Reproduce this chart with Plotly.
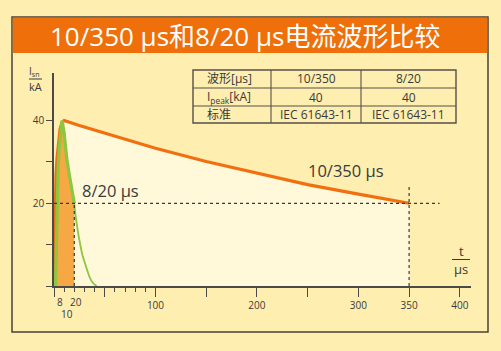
import plotly.graph_objects as go

# ---- data ----
t_10350 = [0, 1, 2, 3, 4, 6, 8, 10, 25, 50, 75, 100, 150, 200, 250, 300, 350]
i_10350 = [0, 20, 27, 31, 34, 38, 39.6, 40, 38.8, 36.9, 35.0, 33.3, 30.1, 27.2, 24.5, 22.2, 20]

t_820_head = [1.5, 2.2, 3, 4, 5, 6.5, 8, 10, 12.5, 15, 17.5, 20]
i_820_head = [0, 10, 20, 28, 33, 37.5, 40, 37, 31, 27, 23.5, 20]
t_820_tail = [20, 21, 22.3, 24, 25.6, 28, 30.5, 33, 35.5, 38.5, 42]
i_820_tail = [20, 17.5, 15.2, 12.5, 10.4, 7.5, 5.5, 3.6, 1.9, 0.7, 0]

x_major = [0, 50, 100, 150, 200, 250, 300, 350, 400]
x_major_text = ["", "", "100", "", "200", "", "300", "350", "400"]
x_minor = [10, 20, 30, 40, 60, 70, 80, 90]
y_ticks = [0, 10, 20, 30, 40]
y_ticktext = ["", "", "20", "", "40"]

title_text = "10/350 µs和8/20 µs电流波形比较"
table_rows = [
    ["波形[µs]", "10/350", "8/20"],
    ["I<sub>peak</sub>[kA]", "40", "40"],
    ["标准", "IEC 61643-11", "IEC 61643-11"],
]

# ---- style ----
W, H = 501, 351
L, R, T, B = 54, 471, 73, 286
BG = "#FEEEB0"
LIGHT = "#FFF9DA"
ORANGE = "#F07010"
ORANGE_FILL = "#F5A843"
GREEN = "#8DC63F"
DARK = "#3A3A3A"
FONT = "Open Sans, Noto Sans CJK SC"


def px(x):
    return (x - L) / (R - L)


def py(y):
    return (B - y) / (B - T)


fig = go.Figure()
fig.add_trace(go.Scatter(x=t_10350, y=i_10350, mode="lines", line=dict(width=0),
                         fill="tozeroy", fillcolor=LIGHT, hoverinfo="skip", showlegend=False))
fig.add_trace(go.Scatter(x=t_820_head, y=i_820_head, mode="lines", line=dict(width=0),
                         fill="tozeroy", fillcolor=ORANGE_FILL, hoverinfo="skip", showlegend=False))
fig.add_trace(go.Scatter(x=t_10350, y=i_10350, mode="lines",
                         line=dict(color=ORANGE, width=3.2), showlegend=False))
fig.add_trace(go.Scatter(x=t_820_head, y=i_820_head, mode="lines",
                         line=dict(color=GREEN, width=3.2), showlegend=False))
fig.add_trace(go.Scatter(x=t_820_tail, y=i_820_tail, mode="lines",
                         line=dict(color=GREEN, width=1.8, shape="spline"), showlegend=False))

shapes = []
shapes.append(dict(type="rect", xref="paper", yref="paper", x0=px(12), x1=px(488),
                   y0=py(332), y1=py(17), line=dict(color="#4A4236", width=1.5),
                   fillcolor=BG, layer="below"))
shapes.append(dict(type="rect", xref="paper", yref="paper", x0=px(12.8), x1=px(487.2),
                   y0=py(53), y1=py(17.8), line=dict(width=0),
                   fillcolor="#EF6F0A", layer="below"))
dot = dict(color=DARK, width=1.2, dash="dot")
shapes.append(dict(type="line", xref="x", yref="y", x0=0, x1=380, y0=20, y1=20, line=dot, layer="above"))
shapes.append(dict(type="line", xref="x", yref="y", x0=20, x1=20, y0=0, y1=20, line=dot, layer="above"))
shapes.append(dict(type="line", xref="x", yref="y", x0=350, x1=350, y0=0, y1=24, line=dot, layer="above"))
shapes.append(dict(type="line", xref="paper", yref="paper", x0=px(29), x1=px(42),
                   y0=py(79), y1=py(79), line=dict(color=DARK, width=1)))
shapes.append(dict(type="line", xref="paper", yref="paper", x0=px(452), x1=px(470),
                   y0=py(259.5), y1=py(259.5), line=dict(color=DARK, width=1)))

tx = [193, 271, 361, 456]
ty = [70, 88, 106, 123]
tl = dict(color="#555049", width=1.1)
shapes.append(dict(type="rect", xref="paper", yref="paper", x0=px(tx[0]), x1=px(tx[-1]),
                   y0=py(ty[-1]), y1=py(ty[0]), line=dict(color="#555049", width=1.4)))
for xv in tx[1:-1]:
    shapes.append(dict(type="line", xref="paper", yref="paper", x0=px(xv), x1=px(xv),
                       y0=py(ty[-1]), y1=py(ty[0]), line=tl))
for yv in ty[1:-1]:
    shapes.append(dict(type="line", xref="paper", yref="paper", x0=px(tx[0]), x1=px(tx[-1]),
                       y0=py(yv), y1=py(yv), line=tl))

ann = []


def note(text, x, y, size, color=DARK, xanchor="center", xref="paper", yref="paper"):
    ann.append(dict(text=text, xref=xref, yref=yref, x=x, y=y, showarrow=False,
                    xanchor=xanchor, yanchor="middle",
                    font=dict(family=FONT, size=size, color=color)))


note(title_text, px(245), py(36), 26, color="white")
for r, row in enumerate(table_rows):
    yc = (ty[r] + ty[r + 1]) / 2
    for c, txt in enumerate(row):
        if c == 0:
            note(txt, px(tx[0] + 12), py(yc), 12, xanchor="left")
        else:
            note(txt, px((tx[c] + tx[c + 1]) / 2), py(yc), 12)
note("10/350 µs", px(346), py(170), 16.5)
note("8/20 µs", px(110), py(190), 16.5)
note("I<sub>sn</sub>", px(34), py(72), 10)
note("kA", px(35), py(86), 11)
note("t", px(461), py(251), 13)
note("µs", px(461), py(269), 13)
for txt, xv, ypx in [("8", 6, 302), ("20", 22, 302), ("10", 13, 314)]:
    note(txt, xv, py(ypx), 10, xref="x")

fig.update_layout(
    width=W, height=H,
    margin=dict(l=L, r=W - R, t=T, b=H - B, pad=0),
    paper_bgcolor=BG, plot_bgcolor=BG,
    shapes=shapes, annotations=ann, showlegend=False,
    xaxis=dict(range=[0, 411], showgrid=False, zeroline=False, showline=True,
               linecolor="#4A4A4A", linewidth=1.5, ticks="outside", ticklen=9,
               tickwidth=1.4, tickcolor="#4A4A4A", tickvals=x_major, ticktext=x_major_text,
               tickfont=dict(family=FONT, size=10, color=DARK),
               minor=dict(tickvals=x_minor, ticks="outside", ticklen=4.5, tickwidth=1.2,
                          tickcolor="#4A4A4A", showgrid=False)),
    yaxis=dict(range=[0, 51.5], showgrid=False, zeroline=False, showline=True,
               linecolor="#4A4A4A", linewidth=1.5, ticks="outside", ticklen=6,
               tickwidth=1.4, tickcolor="#4A4A4A", tickvals=y_ticks, ticktext=y_ticktext,
               tickfont=dict(family=FONT, size=10, color=DARK)),
)

fig.write_html("out.html")
